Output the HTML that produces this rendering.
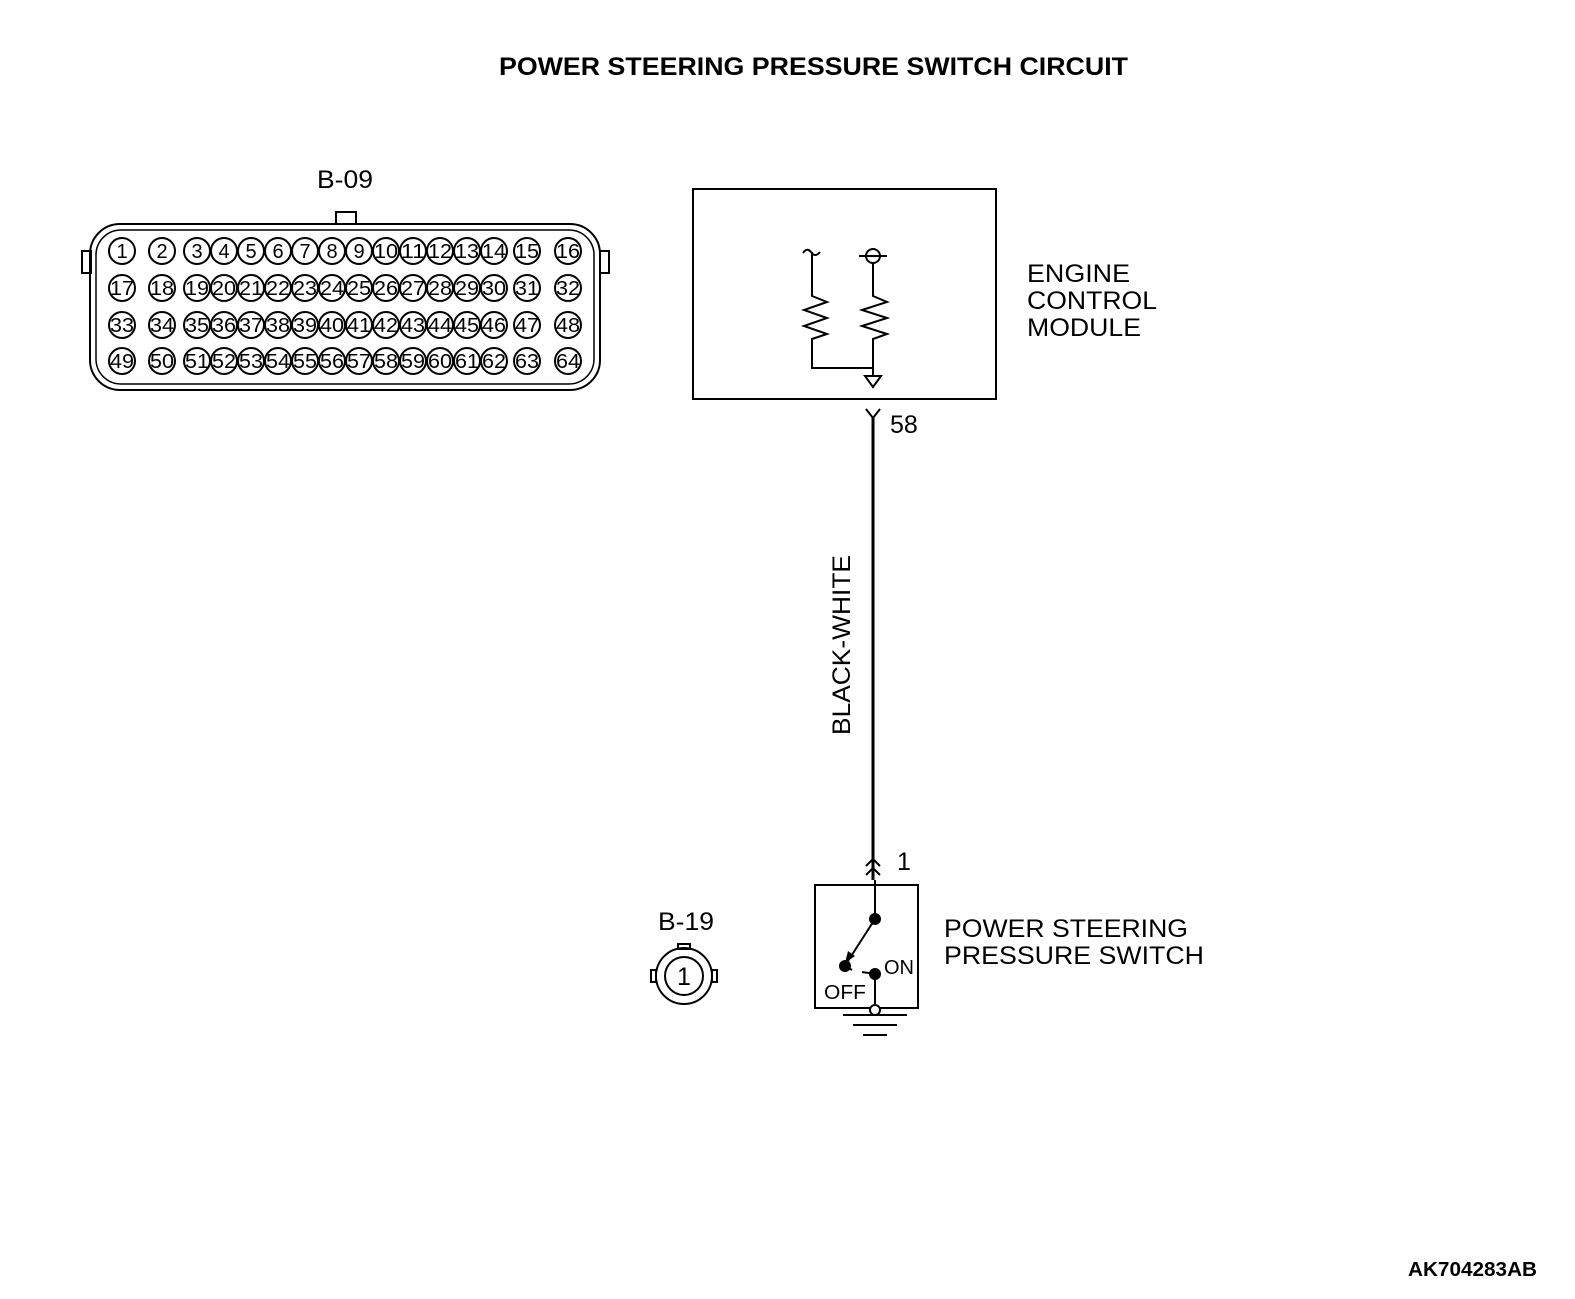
<!DOCTYPE html>
<html><head><meta charset="utf-8"><style>
html,body{margin:0;padding:0;background:#fff}
svg{display:block}
text{font-family:"Liberation Sans",sans-serif;fill:#000}
.p text{font-size:20px;text-anchor:middle}
</style></head><body>
<svg width="1575" height="1299" viewBox="0 0 1575 1299" xmlns="http://www.w3.org/2000/svg">
<text x="499" y="75" font-size="25" font-weight="bold" textLength="629" lengthAdjust="spacingAndGlyphs">POWER STEERING PRESSURE SWITCH CIRCUIT</text>
<text x="317" y="188" font-size="25" textLength="56" lengthAdjust="spacingAndGlyphs">B-09</text>
<g fill="none" stroke="#000" stroke-width="2">
<rect x="336" y="212" width="20" height="12"/>
<rect x="82" y="251" width="9" height="22"/>
<rect x="600" y="251" width="9" height="22"/>
<rect x="90" y="224" width="510" height="166" rx="30"/>
<rect x="96" y="230" width="498" height="154" rx="25" stroke-width="1.5"/>
</g>
<g fill="none" stroke="#000" stroke-width="2">
<g id="row">
<circle cx="122" cy="251" r="13"/><circle cx="162" cy="251" r="13"/><circle cx="197" cy="251" r="13"/><circle cx="224" cy="251" r="13"/><circle cx="251" cy="251" r="13"/><circle cx="278" cy="251" r="13"/><circle cx="305" cy="251" r="13"/><circle cx="332" cy="251" r="13"/><circle cx="359" cy="251" r="13"/><circle cx="386" cy="251" r="13"/><circle cx="413" cy="251" r="13"/><circle cx="440" cy="251" r="13"/><circle cx="467" cy="251" r="13"/><circle cx="494" cy="251" r="13"/><circle cx="527" cy="251" r="13"/><circle cx="568" cy="251" r="13"/>
</g>
<use href="#row" y="37"/><use href="#row" y="74"/><use href="#row" y="110"/>
</g>
<g class="p">
<text x="122" y="258">1</text><text x="162" y="258">2</text><text x="197" y="258">3</text><text x="224" y="258">4</text><text x="251" y="258">5</text><text x="278" y="258">6</text><text x="305" y="258">7</text><text x="332" y="258">8</text><text x="359" y="258">9</text>
</g>
<g class="p" lengthAdjust="spacingAndGlyphs">
<text x="386" y="258" textLength="24" lengthAdjust="spacingAndGlyphs">10</text><text x="413" y="258" textLength="24" lengthAdjust="spacingAndGlyphs">11</text><text x="440" y="258" textLength="24" lengthAdjust="spacingAndGlyphs">12</text><text x="467" y="258" textLength="24" lengthAdjust="spacingAndGlyphs">13</text><text x="494" y="258" textLength="24" lengthAdjust="spacingAndGlyphs">14</text><text x="527" y="258" textLength="24" lengthAdjust="spacingAndGlyphs">15</text><text x="568" y="258" textLength="24" lengthAdjust="spacingAndGlyphs">16</text>
<text x="122" y="295" textLength="24" lengthAdjust="spacingAndGlyphs">17</text><text x="162" y="295" textLength="24" lengthAdjust="spacingAndGlyphs">18</text><text x="197" y="295" textLength="24" lengthAdjust="spacingAndGlyphs">19</text><text x="224" y="295" textLength="24" lengthAdjust="spacingAndGlyphs">20</text><text x="251" y="295" textLength="24" lengthAdjust="spacingAndGlyphs">21</text><text x="278" y="295" textLength="24" lengthAdjust="spacingAndGlyphs">22</text><text x="305" y="295" textLength="24" lengthAdjust="spacingAndGlyphs">23</text><text x="332" y="295" textLength="24" lengthAdjust="spacingAndGlyphs">24</text><text x="359" y="295" textLength="24" lengthAdjust="spacingAndGlyphs">25</text><text x="386" y="295" textLength="24" lengthAdjust="spacingAndGlyphs">26</text><text x="413" y="295" textLength="24" lengthAdjust="spacingAndGlyphs">27</text><text x="440" y="295" textLength="24" lengthAdjust="spacingAndGlyphs">28</text><text x="467" y="295" textLength="24" lengthAdjust="spacingAndGlyphs">29</text><text x="494" y="295" textLength="24" lengthAdjust="spacingAndGlyphs">30</text><text x="527" y="295" textLength="24" lengthAdjust="spacingAndGlyphs">31</text><text x="568" y="295" textLength="24" lengthAdjust="spacingAndGlyphs">32</text>
<text x="122" y="332" textLength="24" lengthAdjust="spacingAndGlyphs">33</text><text x="162" y="332" textLength="24" lengthAdjust="spacingAndGlyphs">34</text><text x="197" y="332" textLength="24" lengthAdjust="spacingAndGlyphs">35</text><text x="224" y="332" textLength="24" lengthAdjust="spacingAndGlyphs">36</text><text x="251" y="332" textLength="24" lengthAdjust="spacingAndGlyphs">37</text><text x="278" y="332" textLength="24" lengthAdjust="spacingAndGlyphs">38</text><text x="305" y="332" textLength="24" lengthAdjust="spacingAndGlyphs">39</text><text x="332" y="332" textLength="24" lengthAdjust="spacingAndGlyphs">40</text><text x="359" y="332" textLength="24" lengthAdjust="spacingAndGlyphs">41</text><text x="386" y="332" textLength="24" lengthAdjust="spacingAndGlyphs">42</text><text x="413" y="332" textLength="24" lengthAdjust="spacingAndGlyphs">43</text><text x="440" y="332" textLength="24" lengthAdjust="spacingAndGlyphs">44</text><text x="467" y="332" textLength="24" lengthAdjust="spacingAndGlyphs">45</text><text x="494" y="332" textLength="24" lengthAdjust="spacingAndGlyphs">46</text><text x="527" y="332" textLength="24" lengthAdjust="spacingAndGlyphs">47</text><text x="568" y="332" textLength="24" lengthAdjust="spacingAndGlyphs">48</text>
<text x="122" y="368" textLength="24" lengthAdjust="spacingAndGlyphs">49</text><text x="162" y="368" textLength="24" lengthAdjust="spacingAndGlyphs">50</text><text x="197" y="368" textLength="24" lengthAdjust="spacingAndGlyphs">51</text><text x="224" y="368" textLength="24" lengthAdjust="spacingAndGlyphs">52</text><text x="251" y="368" textLength="24" lengthAdjust="spacingAndGlyphs">53</text><text x="278" y="368" textLength="24" lengthAdjust="spacingAndGlyphs">54</text><text x="305" y="368" textLength="24" lengthAdjust="spacingAndGlyphs">55</text><text x="332" y="368" textLength="24" lengthAdjust="spacingAndGlyphs">56</text><text x="359" y="368" textLength="24" lengthAdjust="spacingAndGlyphs">57</text><text x="386" y="368" textLength="24" lengthAdjust="spacingAndGlyphs">58</text><text x="413" y="368" textLength="24" lengthAdjust="spacingAndGlyphs">59</text><text x="440" y="368" textLength="24" lengthAdjust="spacingAndGlyphs">60</text><text x="467" y="368" textLength="24" lengthAdjust="spacingAndGlyphs">61</text><text x="494" y="368" textLength="24" lengthAdjust="spacingAndGlyphs">62</text><text x="527" y="368" textLength="24" lengthAdjust="spacingAndGlyphs">63</text><text x="568" y="368" textLength="24" lengthAdjust="spacingAndGlyphs">64</text>
</g>
<g fill="none" stroke="#000" stroke-width="2">
<rect x="693" y="189" width="303" height="210"/>
<path d="M803 253 Q807 247 811 252 Q815 258 820 252"/>
<path d="M812 252 V296 L827 302 L804 310 L827 318 L804 326 L827 334 L812 339 V368 H873"/>
<circle cx="873" cy="256" r="7"/>
<path d="M859 256 H887"/>
<path d="M873 263 V296 L887 302 L862 310 L887 318 L862 326 L887 334 L873 339 V376"/>
<path d="M865 376 H881 L873 387 Z"/>
<path d="M866 409 L873 418 L880 409"/>
<path d="M873 418 V880" stroke-width="3"/>
<path d="M866 866 L873 859 L880 866 M866 875 L873 868 L880 875"/>
<rect x="815" y="885" width="103" height="123"/>
<path d="M875 880 V919"/>
<path d="M875 919 L848 961"/>
<path d="M845 966 L852 970 M862 972 L875 974 V1005"/>
<circle cx="875" cy="1010" r="5" fill="#fff"/>
<path d="M843 1015 H907 M853 1025 H897 M863 1035 H887"/>
<circle cx="684" cy="976" r="28"/>
<circle cx="684" cy="976" r="19"/>
<rect x="678" y="944" width="12" height="5"/>
<rect x="651" y="970" width="5" height="12"/>
<rect x="712" y="970" width="5" height="12"/>
</g>
<g fill="#000">
<circle cx="875" cy="919" r="6"/>
<circle cx="845" cy="966" r="6"/>
<circle cx="875" cy="974" r="6"/>
<path d="M845 963 L848 951 L855 956 Z"/>
</g>
<text x="890" y="433" font-size="25">58</text>
<text x="897" y="870" font-size="25">1</text>
<text x="1027" y="282" font-size="25" textLength="103" lengthAdjust="spacingAndGlyphs">ENGINE</text>
<text x="1027" y="309" font-size="25" textLength="130" lengthAdjust="spacingAndGlyphs">CONTROL</text>
<text x="1027" y="336" font-size="25" textLength="114" lengthAdjust="spacingAndGlyphs">MODULE</text>
<text x="850" y="735" font-size="25" transform="rotate(-90 850 735)" textLength="180" lengthAdjust="spacingAndGlyphs">BLACK-WHITE</text>
<text x="944" y="937" font-size="25" textLength="244" lengthAdjust="spacingAndGlyphs">POWER STEERING</text>
<text x="944" y="964" font-size="25" textLength="260" lengthAdjust="spacingAndGlyphs">PRESSURE SWITCH</text>
<text x="884" y="974" font-size="20" textLength="30" lengthAdjust="spacingAndGlyphs">ON</text>
<text x="824" y="999" font-size="20" textLength="42" lengthAdjust="spacingAndGlyphs">OFF</text>
<text x="658" y="930" font-size="25" textLength="56" lengthAdjust="spacingAndGlyphs">B-19</text>
<text x="684" y="985" font-size="25" text-anchor="middle">1</text>
<text x="1408" y="1276" font-size="20" font-weight="bold" textLength="129" lengthAdjust="spacingAndGlyphs">AK704283AB</text>
</svg>
</body></html>
